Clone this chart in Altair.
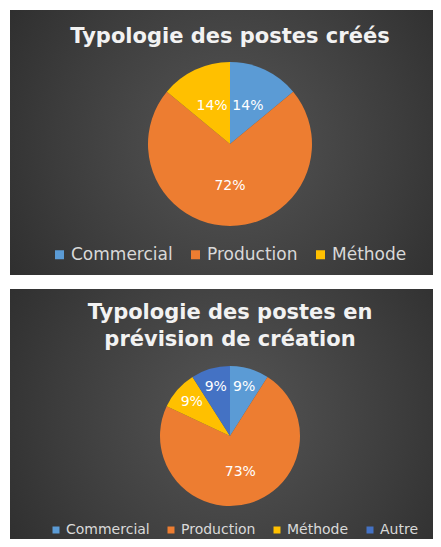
import altair as alt
import pandas as pd

# ---- data ----
title1 = "Typologie des postes créés"
cats1 = ["Commercial", "Production", "Méthode"]
vals1 = [14, 72, 14]

title2 = ["Typologie des postes en", "prévision de création"]
cats2 = ["Commercial", "Production", "Méthode", "Autre"]
vals2 = [9, 73, 9, 9]

palette = {"Commercial": "#5B9BD5", "Production": "#ED7D31",
           "Méthode": "#FFC000", "Autre": "#4472C4"}

FONT = "DejaVu Sans"

bg_grad = alt.RadialGradient(
    gradient="radial",
    stops=[alt.GradientStop(color="#555555", offset=0),
           alt.GradientStop(color="#3c3c3c", offset=0.55),
           alt.GradientStop(color="#262626", offset=1)],
    x1=0.52, y1=0.5, r1=0, x2=0.52, y2=0.5, r2=0.75,
)


def panel(cats, vals, title, W, H, cx, cy, R, title_y, lbl_r_big, lbl_r_small,
          leg_x, leg_y, leg_fs, col_pad, title_fs, sym_size):
    df = pd.DataFrame({"c": cats, "v": vals, "i": list(range(len(cats)))})
    base = alt.Chart(df).transform_calculate(lbl="datum.v + '%'")

    bg = base.mark_rect(color=bg_grad).encode(
        x=alt.value(0), x2=alt.value(W), y=alt.value(0), y2=alt.value(H)
    )

    arcs = base.mark_arc(outerRadius=R).encode(
        theta=alt.Theta("v:Q", stack=True),
        order=alt.Order("i:Q"),
        color=alt.Color(
            "c:N",
            scale=alt.Scale(domain=cats, range=[palette[c] for c in cats]),
            legend=alt.Legend(
                orient="none", legendX=leg_x, legendY=leg_y,
                direction="horizontal", title=None,
                labelColor="#d9d9d9", labelFontSize=leg_fs, labelFont=FONT,
                symbolType="square", symbolSize=sym_size, symbolStrokeWidth=0,
                columnPadding=col_pad, labelOffset=3,
            ),
        ),
        x=alt.value(cx), y=alt.value(cy),
    )

    big = base.mark_text(radius=lbl_r_big, color="white", fontSize=14,
                         font=FONT).encode(
        theta=alt.Theta("v:Q", stack=True),
        order=alt.Order("i:Q"),
        text=alt.condition("datum.c == 'Production'", "lbl:N", alt.value("")),
        x=alt.value(cx), y=alt.value(cy),
    )
    small = base.mark_text(radius=lbl_r_small, color="white", fontSize=14,
                           font=FONT).encode(
        theta=alt.Theta("v:Q", stack=True),
        order=alt.Order("i:Q"),
        text=alt.condition("datum.c != 'Production'", "lbl:N", alt.value("")),
        x=alt.value(cx), y=alt.value(cy),
    )

    ttl = alt.Chart(pd.DataFrame({"k": [0]})).mark_text(
        text=title, color="#f2f2f2", fontSize=title_fs, fontWeight="bold",
        font=FONT, align="center", baseline="middle", lineHeight=27,
    ).encode(x=alt.value(cx), y=alt.value(title_y))

    return alt.layer(bg, arcs, big, small, ttl).properties(width=W, height=H)


p1 = panel(cats1, vals1, title1, 423, 265, 220, 134, 82, 27, 42, 42,
           41, 236, 17, 14, 21, 81)
p2 = panel(cats2, vals2, title2, 423, 250, 220, 147, 70, 24, 37, 51,
           39, 234, 14, 14, 21, 49)

chart = alt.vconcat(p1, p2, spacing=14).resolve_scale(
    color="independent"
).resolve_legend(color="independent").properties(
    padding={"left": 2, "top": 2, "right": 0, "bottom": 0},
    background="white",
).configure_view(stroke=None)

chart.save("out.html", embed_options={"renderer": "svg", "actions": False})
